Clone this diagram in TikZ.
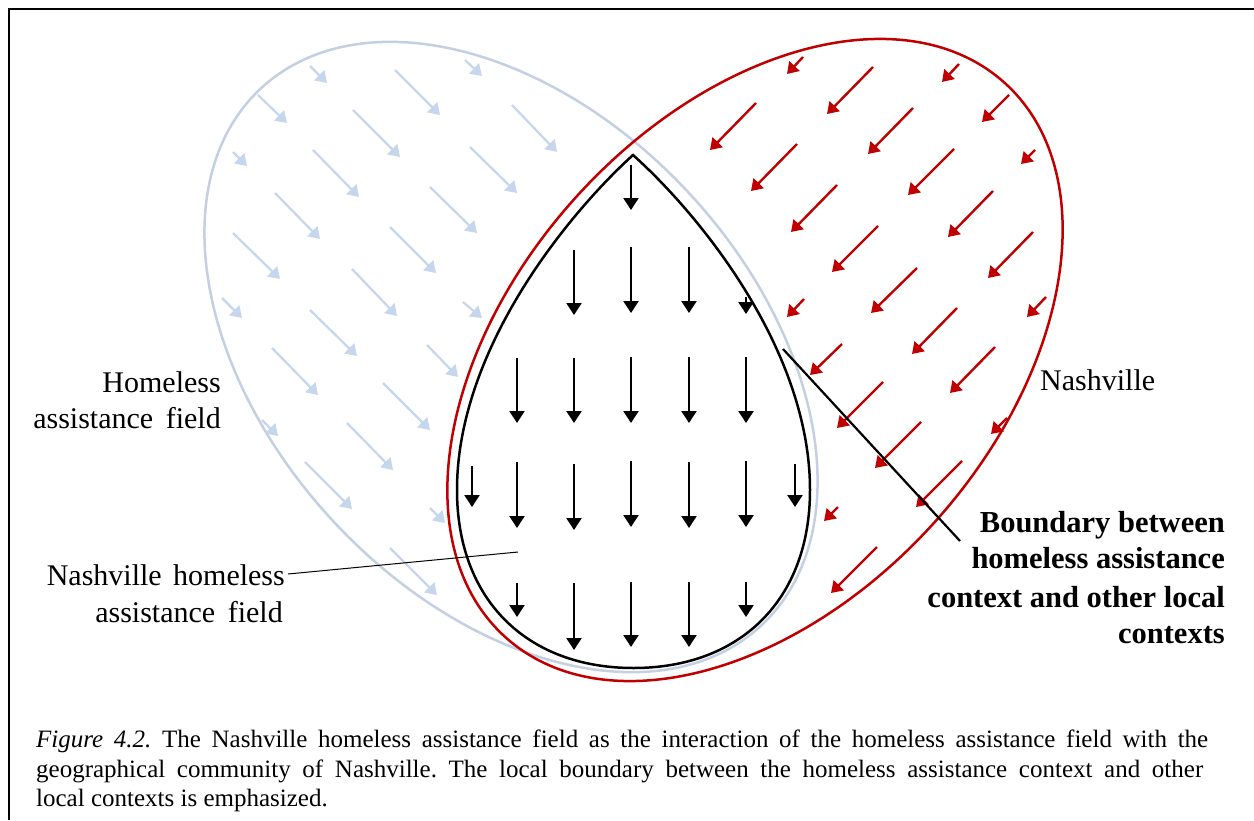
\documentclass[tikz,border=0pt]{standalone}
\usepackage{fontspec}
\setmainfont{Liberation Serif}
\usetikzlibrary{arrows.meta,calc}
\definecolor{fieldblue}{RGB}{198,214,236}
\definecolor{fieldrim}{RGB}{196,208,226}
\definecolor{cityred}{RGB}{192,0,0}
\frenchspacing
\begin{document}
\begin{tikzpicture}[x=1pt,y=-1pt,
  bluearrow/.style={draw=fieldblue, line width=2.2pt, -{Triangle[width=14pt,length=11pt]}},
  redarrow/.style={draw=cityred, line width=2.4pt, -{Triangle[width=14pt,length=11pt]}},
  downarrow/.style={draw=black, line width=2.3pt, -{Triangle[width=15pt,length=12pt]}},
  lab/.style={font=\fontsize{30}{36}\selectfont, inner sep=0pt, anchor=base east},
  boldlab/.style={font=\fontsize{30.5}{37}\selectfont\bfseries, inner sep=0pt, anchor=base east},
  caption/.style={font=\fontsize{25}{30}\selectfont, inner sep=0pt, anchor=base west},
  rim/.style={line width=2.5pt},
]
\useasboundingbox (0,0) rectangle (1254,820);
\fill[white] (0,0) rectangle (1254,820);

% page frame
\draw[line width=2pt] (1254,8.5) -- (9,8.5) -- (9,820);

% homeless assistance field
\draw[rim, fieldrim, rotate around={-47:(511,357)}] (511,357) ellipse [x radius=367pt, y radius=242pt];
\foreach \a/\b/\c/\d in {
  310/66/327/83, 395/70/440/115, 465/60/482/76,
  258/95/287/123, 353/110/400/157, 512/105/557/152,
  233/152/247/166, 313/150/359/197, 470/147/517/193,
  275/193/320/239, 430/187/477/233,
  233/233/280/279, 390/227/436/273,
  222/298/242/318, 352/269/397/316, 463/302/482/318,
  310/310/357/356, 272/348/318/395, 427/345/458/377,
  383/383/430/430, 262/420/278/436, 347/423/393/470,
  305/462/352/509, 430/508/445/523, 390/548/437/595}
  \draw[bluearrow] (\a,\b) -- (\c,\d);

% Nashville
\draw[rim, cityred, rotate around={48:(755,360)}] (755,360) ellipse [x radius=373pt, y radius=242pt];
\foreach \a/\b/\c/\d in {
  803/57/787/74, 873/67/827/114, 959/64/942/82, 1009/95/982/122,
  756/103/710/150, 913/108/868/154, 1035/150/1021/164,
  797/144/751/191, 954/149/908/195,
  837/185/791/232, 993/191/948/237,
  878/226/832/272, 1033/232/988/278,
  804/299/787/317, 917/268/871/313, 1046/297/1027/317,
  957/308/912/354, 842/344/810/375, 995/347/950/393,
  883/382/837/428, 1007/418/991/434, 921/422/875/468,
  838/507/824/521, 962/461/916/507, 877/547/831/593}
  \draw[redarrow] (\a,\b) -- (\c,\d);

% Nashville homeless assistance field
\draw[rim, line join=miter] (633,155) .. controls (700,215) and (810,350) .. (810,490)
  .. controls (810,600) and (740,668) .. (633.5,668)
  .. controls (527,668) and (457,600) .. (457,490)
  .. controls (457,350) and (567,215) .. cycle;
\foreach \x/\a/\b in {
  631/165/210,
  574/250/315, 631/247/313, 689/247/313, 746/297/314,
  517/358/423, 574/358/423, 631/357/423, 689/357/423, 746/357/423,
  472/466/507, 517/462/528, 574/464/530, 631/461/527, 689/462/528, 746/461/527, 795/464/507,
  517/583/617, 574/583/650, 631/582/647, 689/582/647, 746/582/617}
  \draw[downarrow] (\x,\a) -- (\x,\b);

% labels
\node[lab] (hf1) at (221,392) {Homeless};
\node[lab] (hf2) at (221,428) {assistance\hspace{0.42em}field};
\node[lab] (nh1) at (285,585) {Nashville\hspace{0.38em}homeless};
\node[lab] (nh2) at (283,622) {assistance\hspace{0.42em}field};
\node[font=\fontsize{30}{36}\selectfont, inner sep=0pt, anchor=base west] (nash) at (1040,390) {Nashville};
\node[boldlab] (bd1) at (1225,532) {Boundary between};
\node[boldlab] (bd2) at (1225,568) {homeless assistance};
\node[boldlab] (bd3) at (1225,607) {context and other local};
\node[boldlab] (bd4) at (1225,643) {contexts};

% leader lines
\coordinate (nhf) at (518,552);
\draw[line width=1pt] ($(nh1.base east)+(3,-11)$) -- (nhf);
\coordinate (bstart) at (783,349);
\coordinate (bend) at (960,541);
\draw[line width=2.2pt] (bstart) -- (bend);

% caption, justified lines
\node[caption] (c1) at (36,747) {\makebox[1172pt][s]{\textit{Figure 4.2.} The Nashville homeless assistance field as the interaction of the homeless assistance field with the}};
\node[caption] (c2) at (36,777) {\makebox[1167pt][s]{geographical community of Nashville. The local boundary between the homeless assistance context and other}};
\node[caption] (c3) at (36,806) {local contexts is emphasized.};
\end{tikzpicture}
\end{document}
